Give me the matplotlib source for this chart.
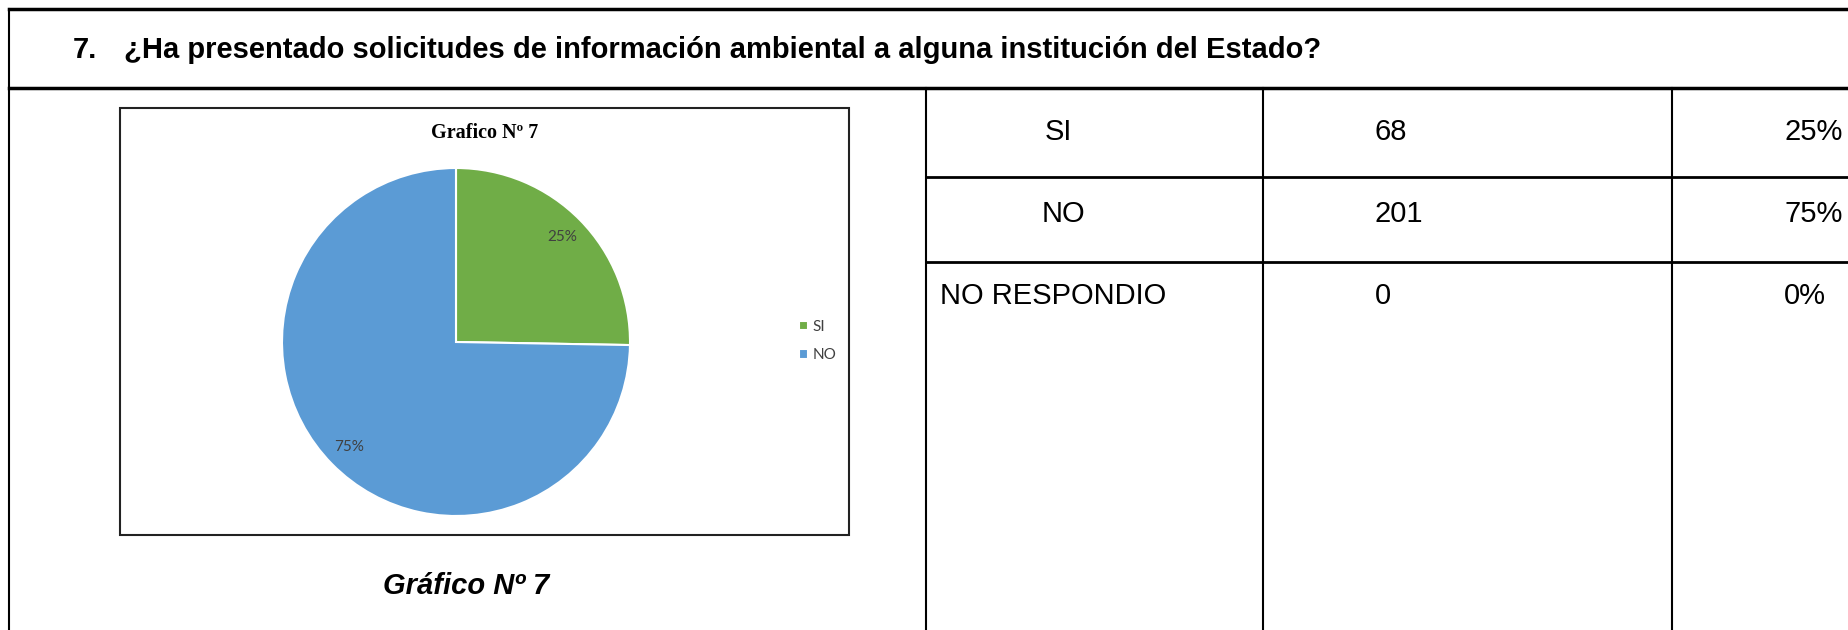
import matplotlib.pyplot as plt
from matplotlib.patches import Rectangle

# Data
categories = ["SI", "NO"]
counts = [68, 201]
table_labels = ["SI", "NO", "NO RESPONDIO"]
table_counts = ["68", "201", "0"]
table_pcts = ["25%", "75%", "0%"]
colors = ["#70AD47", "#5B9BD5"]

question = "¿Ha presentado solicitudes de información ambiental a alguna institución del Estado?"

W, H = 1849, 630
fig = plt.figure(figsize=(W / 100, H / 100), dpi=100)
fig.patch.set_facecolor("white")

# overlay axes in pixel coordinates for the document frame
ax = fig.add_axes([0, 0, 1, 1])
ax.set_xlim(0, W)
ax.set_ylim(H, 0)
ax.axis("off")

# frame lines
ax.plot([9, W], [9, 9], color="black", lw=2.5)
ax.plot([9, 9], [9, H], color="black", lw=1.5)
ax.plot([9, W], [88, 88], color="black", lw=2.5)
for x in [926, 1263, 1672]:
    ax.plot([x, x], [88, H], color="black", lw=1.5)
for y in [177, 262]:
    ax.plot([926, W], [y, y], color="black", lw=2)

# question title
ax.text(73, 50, "7.", fontsize=21, fontweight="bold", family="Liberation Sans", va="center")
ax.text(124, 50, question, fontsize=21, fontweight="bold", family="Liberation Sans", va="center")

# table text
label_x = [1045, 1042, 940]
row_y = [132, 214, 296]
for lab, c, p, lx, y in zip(table_labels, table_counts, table_pcts, label_x, row_y):
    ax.text(lx, y, lab, fontsize=21, family="Liberation Sans", va="center")
    ax.text(1375, y, c, fontsize=21, family="Liberation Sans", va="center")
    ax.text(1784, y, p, fontsize=21, family="Liberation Sans", va="center")

# chart box
ax.add_patch(Rectangle((120, 108), 729, 427, facecolor="white", edgecolor="#222222", lw=1.5))
ax.text(485, 133, "Grafico Nº 7", fontsize=14.5, fontweight="bold", family="Liberation Serif",
        ha="center", va="center")

# caption below chart
ax.text(466, 586, "Gráfico Nº 7", fontsize=21, fontweight="bold", style="italic",
        family="Liberation Sans", ha="center", va="center")

# pie
cx, cy, r = 456, 342, 174
pax = fig.add_axes([(cx - r) / W, (H - cy - r) / H, 2 * r / W, 2 * r / H])
wedges, _, autotexts = pax.pie(counts, colors=colors, startangle=90, counterclock=False,
                               autopct="%1.0f%%", pctdistance=0.86,
                               wedgeprops=dict(edgecolor="white", linewidth=1.5),
                               textprops=dict(color="#404040", fontsize=11, family="Lato"))
pax.set_xlim(-1, 1)
pax.set_ylim(-1, 1)
pax.set_aspect("equal")

pax.legend(wedges, categories, loc="center left", bbox_to_anchor=(785 / W, 1 - 341 / H),
           bbox_transform=fig.transFigure, frameon=False, handlelength=0.6, handleheight=0.6,
           handletextpad=0.3, labelspacing=0.95, prop=dict(family="Lato", size=11),
           labelcolor="#404040")

fig.savefig("out.png", dpi=100)
